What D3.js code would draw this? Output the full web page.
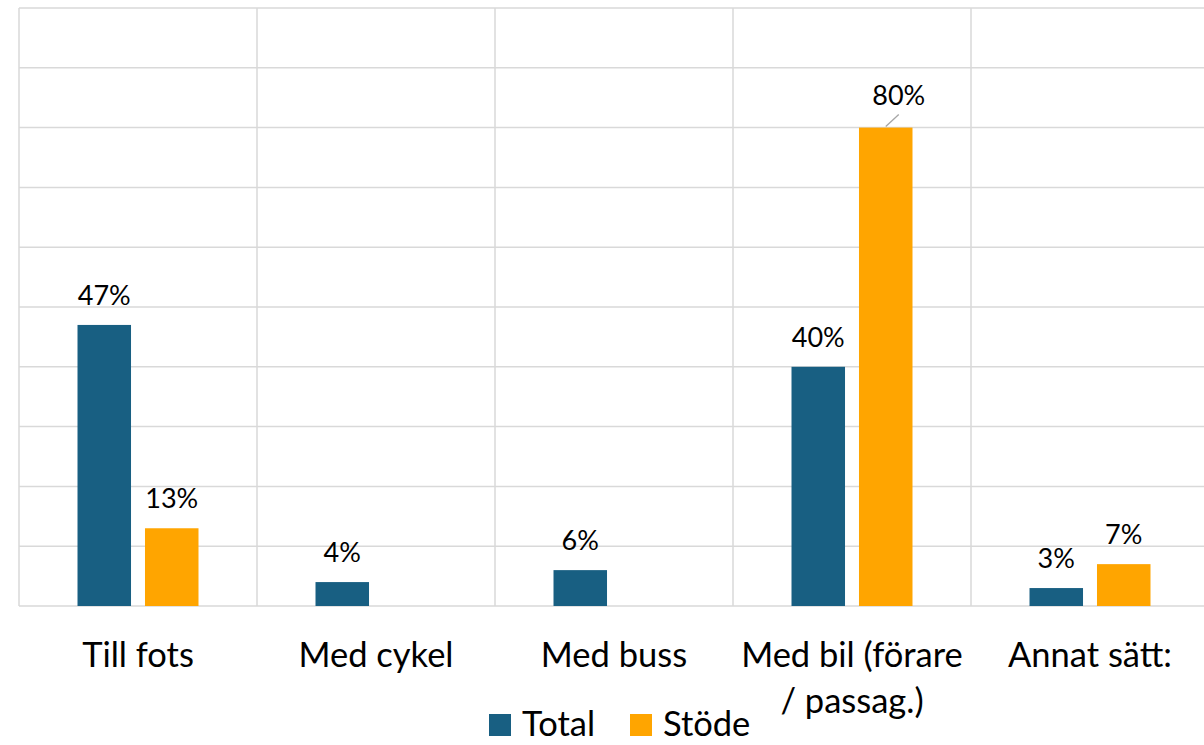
<!DOCTYPE html>
<html>
<head>
<meta charset="utf-8">
<script src="https://cdn.jsdelivr.net/npm/d3@7"></script>
<style>
  html, body { margin: 0; padding: 0; background: #fff; }
  svg { display: block; }
  text { font-family: Lato, "Noto Sans", sans-serif; fill: #000; }
</style>
</head>
<body>
<svg id="chart" width="1204" height="745"></svg>
<script>
// Travel modes and shares (%)
const categories = ["Till fots", "Med cykel", "Med buss", "Med bil (förare / passag.)", "Annat sätt:"];
const categoryLines = [["Till fots"], ["Med cykel"], ["Med buss"], ["Med bil (förare", "/ passag.)"], ["Annat sätt:"]];
const seriesNames = ["Total", "Stöde"];
const totalValues = [47, 4, 6, 40, 3];
const stodeValues = [13, null, null, 80, 7];
const yTicks = [0, 10, 20, 30, 40, 50, 60, 70, 80, 90, 100];
const colors = { "Total": "#185f82", "Stöde": "#ffa500" };

const svg = d3.select("#chart");
const plotLeft = 19, bandW = 238, plotTop = 8, plotBottom = 606;

const x = d3.scaleBand().domain(categories).range([plotLeft, plotLeft + bandW * categories.length]).padding(0);
const xs = d3.scaleBand().domain(seriesNames).range([0, x.bandwidth()]).paddingInner(0.207).paddingOuter(0.867);
const y = d3.scaleLinear().domain([0, 100]).range([plotBottom, plotTop]);

const grid = svg.append("g").attr("stroke", "#d9d9d9").attr("stroke-width", 1.5);
// horizontal gridlines
grid.selectAll("line.h").data(yTicks).join("line")
  .attr("x1", plotLeft).attr("x2", 1204)
  .attr("y1", d => y(d)).attr("y2", d => y(d));
// vertical category separators
const seps = categories.map(c => x(c));
grid.selectAll("line.v").data(seps).join("line")
  .attr("x1", d => d).attr("x2", d => d)
  .attr("y1", plotTop).attr("y2", plotBottom);

const rows = categories.map((c, i) => ({ c, Total: totalValues[i], "Stöde": stodeValues[i] }));

const barData = [];
rows.forEach(r => seriesNames.forEach(s => { if (r[s] != null) barData.push({ c: r.c, s, v: r[s] }); }));

svg.append("g").selectAll("rect").data(barData).join("rect")
  .attr("x", d => x(d.c) + xs(d.s))
  .attr("width", xs.bandwidth())
  .attr("y", d => y(d.v))
  .attr("height", d => y(0) - y(d.v))
  .attr("fill", d => colors[d.s]);

// value labels; the tallest bar gets a short leader line
const labels = svg.append("g");
barData.forEach(d => {
  const cx = x(d.c) + xs(d.s) + xs.bandwidth() / 2;
  const ty = y(d.v);
  if (d.v >= 80) {
    labels.append("line")
      .attr("x1", cx).attr("y1", ty - 1)
      .attr("x2", cx + 13).attr("y2", ty - 13)
      .attr("stroke", "#a6a6a6").attr("stroke-width", 1.3);
    labels.append("text").attr("x", cx + 13).attr("y", ty - 23)
      .attr("text-anchor", "middle").attr("font-size", 27).text(d.v + "%");
  } else {
    labels.append("text").attr("x", cx).attr("y", ty - 20)
      .attr("text-anchor", "middle").attr("font-size", 27).text(d.v + "%");
  }
});

// category axis labels
const xl = svg.append("g");
categories.forEach((c, i) => {
  const t = xl.append("text").attr("x", x(c) + x.bandwidth() / 2).attr("y", 667)
    .attr("text-anchor", "middle").attr("font-size", 34.5);
  categoryLines[i].forEach((ln, j) => {
    t.append("tspan").attr("x", x(c) + x.bandwidth() / 2).attr("dy", j === 0 ? 0 : 46).text(ln);
  });
});

// legend
const legend = svg.append("g");
const legendPos = [{ s: "Total", x: 489 }, { s: "Stöde", x: 630 }];
legendPos.forEach(p => {
  legend.append("rect").attr("x", p.x).attr("y", 714).attr("width", 22).attr("height", 22).attr("fill", colors[p.s]);
  legend.append("text").attr("x", p.x + 33).attr("y", 736).attr("font-size", 34.5).text(p.s);
});
</script>
</body>
</html>
